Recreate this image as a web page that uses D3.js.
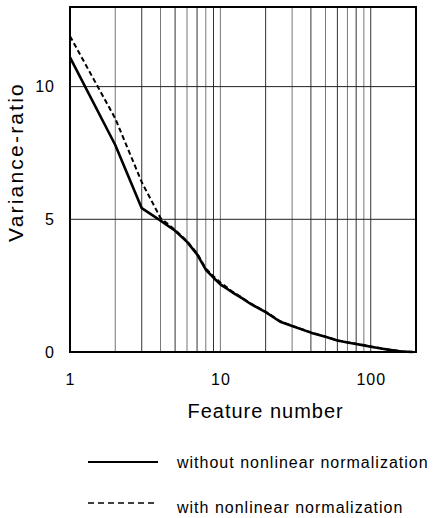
<!DOCTYPE html>
<html>
<head>
<meta charset="utf-8">
<script src="https://d3js.org/d3.v7.min.js"></script>
<style>
  body { margin: 0; background: #fff; }
  text { font-family: "Liberation Sans", Arial, Helvetica, sans-serif; fill: #000; }
</style>
</head>
<body>
<svg id="canvas" width="444" height="518"></svg>
<script>
// data
var featureNumbers = [1, 2, 3, 4, 5, 6, 7, 8, 9, 10, 12, 14, 16, 20, 25, 30, 40, 50, 60, 70, 80, 90, 100, 120, 140, 160, 190];
var withoutNorm   = [11.1, 7.8, 5.42, 4.95, 4.57, 4.15, 3.68, 3.1, 2.8, 2.55, 2.25, 2.02, 1.8, 1.5, 1.14, 0.98, 0.73, 0.57, 0.43, 0.36, 0.3, 0.25, 0.2, 0.12, 0.06, 0.02, 0.0];
var withNorm      = [11.9, 8.8, 6.4, 5.05, 4.6, 4.18, 3.72, 3.15, 2.85, 2.62, 2.28, 2.04, 1.82, 1.52, 1.16, 0.99, 0.74, 0.58, 0.44, 0.37, 0.31, 0.26, 0.21, 0.13, 0.07, 0.03, 0.0];
var xTicks = [1, 10, 100];
var yTicks = [0, 5, 10];
var xGrid = [2, 3, 4, 5, 6, 7, 8, 9, 10, 20, 30, 40, 50, 60, 70, 80, 90, 100];
var yGrid = [5, 10];
var legendLabels = ["without nonlinear normalization", "with nonlinear normalization"];

var svg = d3.select("#canvas");
var margin = {top: 7, right: 28, bottom: 166, left: 70};
var width = 444 - margin.left - margin.right;
var height = 518 - margin.top - margin.bottom;

var g = svg.append("g")
    .attr("transform", "translate(" + margin.left + "," + margin.top + ")");

var x = d3.scaleLog().domain([1, 200]).range([0, width]);
var y = d3.scaleLinear().domain([0, 13]).range([height, 0]);

// grid
g.selectAll(".vgrid").data(xGrid).enter().append("line")
    .attr("class", "vgrid")
    .attr("x1", function(d){ return x(d); }).attr("x2", function(d){ return x(d); })
    .attr("y1", 0).attr("y2", height)
    .attr("stroke", function(d, i){ return i % 2 ? "#333" : "#777"; })
    .attr("stroke-width", 1);

g.selectAll(".hgrid").data(yGrid).enter().append("line")
    .attr("class", "hgrid")
    .attr("x1", 0).attr("x2", width)
    .attr("y1", function(d){ return y(d); }).attr("y2", function(d){ return y(d); })
    .attr("stroke", "#222")
    .attr("stroke-width", 1);

// axes (labels only)
var xAxis = g.append("g")
    .attr("transform", "translate(0," + height + ")")
    .call(d3.axisBottom(x).tickValues(xTicks).tickFormat(d3.format("d")).tickSize(0).tickPadding(22));
var yAxis = g.append("g")
    .call(d3.axisLeft(y).tickValues(yTicks).tickSize(0).tickPadding(15));
[xAxis, yAxis].forEach(function(a){
    a.select(".domain").remove();
    a.selectAll("text").attr("font-size", 16).attr("letter-spacing", 1)
        .style("font-family", "'Liberation Sans', Arial, sans-serif");
});

// lines
var line = d3.line()
    .x(function(d){ return x(d[0]); })
    .y(function(d){ return y(d[1]); });

g.append("path")
    .datum(d3.zip(featureNumbers, withNorm))
    .attr("fill", "none").attr("stroke", "#000")
    .attr("stroke-width", 2).attr("stroke-dasharray", "5,3")
    .attr("d", line);

g.append("path")
    .datum(d3.zip(featureNumbers, withoutNorm))
    .attr("fill", "none").attr("stroke", "#000")
    .attr("stroke-width", 2.6).attr("stroke-linejoin", "round")
    .attr("d", line);

// frame
g.append("rect")
    .attr("width", width).attr("height", height)
    .attr("fill", "none").attr("stroke", "#000").attr("stroke-width", 2);

// axis titles
svg.append("text")
    .attr("x", margin.left + x(20)).attr("y", 418)
    .attr("text-anchor", "middle").attr("font-size", 20).attr("letter-spacing", 1)
    .text("Feature number");

svg.append("text")
    .attr("transform", "translate(23," + 162 + ") rotate(-90)")
    .attr("text-anchor", "middle").attr("font-size", 21).attr("letter-spacing", 2.2)
    .text("Variance-ratio");

// legend
var legend = svg.append("g").attr("transform", "translate(88,462)");
legendLabels.forEach(function(label, i){
    var row = legend.append("g").attr("transform", "translate(0," + (i * 41) + ")");
    row.append("line")
        .attr("x1", 0).attr("x2", 70).attr("y1", 0).attr("y2", 0)
        .attr("stroke", "#000")
        .attr("stroke-width", i ? 1.5 : 2)
        .attr("stroke-dasharray", i ? "6,4" : null);
    row.append("text")
        .attr("x", 89).attr("y", 6 + i * 4)
        .attr("font-size", 16).attr("letter-spacing", 1)
        .text(label);
});
</script>
</body>
</html>
